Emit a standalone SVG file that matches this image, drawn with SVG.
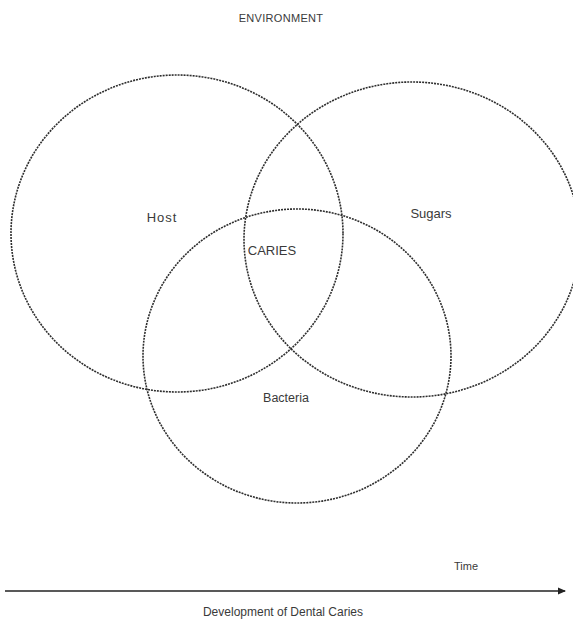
<svg xmlns="http://www.w3.org/2000/svg" width="573" height="633" viewBox="0 0 573 633">
<style>
.c{fill:none;stroke:#2e2e2e;stroke-width:1.6;stroke-dasharray:2 1}
.t{font-family:"Liberation Sans",Arial,sans-serif;font-size:13px;fill:#3a3a3a;text-anchor:middle}
</style>
<defs>
<marker id="ah" markerWidth="8" markerHeight="8" refX="7" refY="4" orient="auto" markerUnits="userSpaceOnUse">
<path d="M0,0.5 L8,4 L0,7.5 Z" fill="#222"/>
</marker>
</defs>
<rect width="573" height="633" fill="#fff"/>
<text class="t" x="281" y="22" style="font-size:11px;letter-spacing:0.3px">ENVIRONMENT</text>
<g id="host">
<ellipse class="c" cx="177" cy="233.5" rx="166" ry="158.5"/>
<text class="t" x="162" y="222" style="letter-spacing:1px">Host</text>
</g>
<g id="sugars">
<ellipse class="c" cx="412" cy="239.5" rx="168" ry="157.5"/>
<text class="t" x="431" y="218">Sugars</text>
</g>
<g id="bacteria">
<ellipse class="c" cx="297" cy="356" rx="154" ry="147"/>
<text class="t" x="286" y="402" style="font-size:12.5px">Bacteria</text>
</g>
<g id="caries">
<text class="t" x="272" y="255">CARIES</text>
</g>
<g id="connectors">
<line x1="5" y1="591" x2="565" y2="591" stroke="#222" stroke-width="1.5" marker-end="url(#ah)"/>
</g>
<text class="t" x="466" y="570" style="font-size:11px">Time</text>
<text class="t" x="283" y="616" style="font-size:12px">Development of Dental Caries</text>
</svg>
